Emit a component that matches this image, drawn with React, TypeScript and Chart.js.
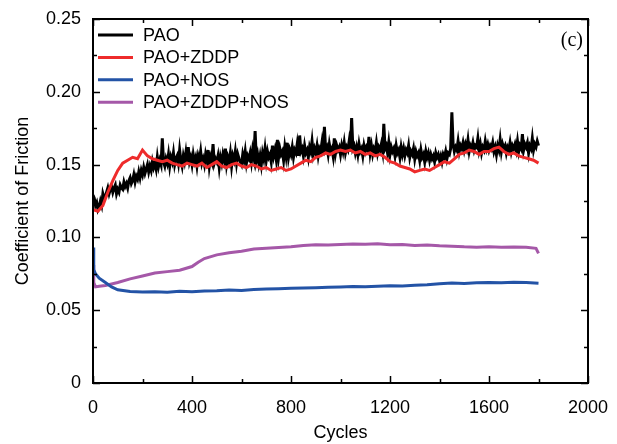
import React, { useEffect, useRef } from "react";
import { Chart, registerables } from "chart.js";

Chart.register(...registerables);

const seriesNames = ["PAO", "PAO+ZDDP", "PAO+NOS", "PAO+ZDDP+NOS"];
const seriesColors = ["#000000", "#EE2B2B", "#2353A6", "#A558A8"];

const xTickValues = [0, 400, 800, 1200, 1600, 2000];
const yTickValues = [0, 0.05, 0.1, 0.15, 0.2, 0.25];

// PAO: every 5 cycles, 0..1800
const paoCycles = Array.from({ length: 361 }, (_, i) => i * 5);
const paoCof = [
  0.129, 0.127, 0.122, 0.124, 0.119, 0.121, 0.125, 0.122, 0.130, 0.127, 0.128, 0.131, 0.134, 0.130, 0.133, 0.135, 0.131, 0.134, 0.136, 0.130,
  0.133, 0.131, 0.136, 0.134, 0.133, 0.138, 0.135, 0.137, 0.134, 0.139, 0.141, 0.137, 0.139, 0.143, 0.138, 0.142, 0.140, 0.145, 0.141, 0.146,
  0.143, 0.148, 0.144, 0.147, 0.150, 0.145, 0.149, 0.146, 0.152, 0.148, 0.151, 0.147, 0.155, 0.149, 0.153, 0.150, 0.168, 0.152, 0.149, 0.154,
  0.151, 0.157, 0.149, 0.155, 0.152, 0.158, 0.150, 0.154, 0.156, 0.151, 0.160, 0.153, 0.149, 0.156, 0.152, 0.158, 0.150, 0.162, 0.152, 0.155,
  0.150, 0.157, 0.152, 0.155, 0.149, 0.156, 0.153, 0.159, 0.151, 0.154, 0.150, 0.157, 0.153, 0.160, 0.149, 0.155, 0.152, 0.164, 0.151, 0.154,
  0.152, 0.156, 0.148, 0.155, 0.151, 0.157, 0.153, 0.161, 0.150, 0.155, 0.152, 0.158, 0.149, 0.156, 0.153, 0.159, 0.151, 0.157, 0.154, 0.152,
  0.150, 0.157, 0.153, 0.159, 0.151, 0.156, 0.154, 0.158, 0.152, 0.160, 0.155, 0.173, 0.153, 0.157, 0.151, 0.156, 0.150, 0.158, 0.154, 0.161,
  0.153, 0.159, 0.155, 0.157, 0.152, 0.163, 0.156, 0.160, 0.154, 0.167, 0.155, 0.161, 0.157, 0.159, 0.153, 0.162, 0.156, 0.165, 0.155, 0.160,
  0.157, 0.162, 0.155, 0.160, 0.158, 0.164, 0.156, 0.170, 0.159, 0.161, 0.156, 0.163, 0.158, 0.160, 0.155, 0.162, 0.159, 0.166, 0.157, 0.161,
  0.158, 0.163, 0.156, 0.161, 0.159, 0.165, 0.157, 0.176, 0.160, 0.162, 0.157, 0.164, 0.159, 0.161, 0.156, 0.168, 0.158, 0.163, 0.160, 0.162,
  0.157, 0.163, 0.159, 0.165, 0.158, 0.162, 0.160, 0.166, 0.159, 0.182, 0.161, 0.163, 0.158, 0.162, 0.157, 0.164, 0.159, 0.161, 0.156, 0.163,
  0.159, 0.162, 0.160, 0.169, 0.158, 0.163, 0.157, 0.161, 0.159, 0.165, 0.158, 0.162, 0.160, 0.164, 0.159, 0.178, 0.161, 0.163, 0.158, 0.165,
  0.157, 0.162, 0.159, 0.161, 0.156, 0.163, 0.158, 0.160, 0.155, 0.162, 0.157, 0.161, 0.156, 0.160, 0.158, 0.163, 0.155, 0.159, 0.157, 0.161,
  0.154, 0.159, 0.156, 0.158, 0.153, 0.160, 0.155, 0.157, 0.152, 0.159, 0.155, 0.158, 0.153, 0.157, 0.154, 0.156, 0.152, 0.158, 0.155, 0.157,
  0.153, 0.156, 0.152, 0.157, 0.155, 0.159, 0.154, 0.158, 0.157, 0.161, 0.186, 0.164, 0.159, 0.162, 0.160, 0.166, 0.159, 0.163, 0.161, 0.165,
  0.160, 0.164, 0.161, 0.167, 0.159, 0.163, 0.161, 0.165, 0.160, 0.163, 0.162, 0.168, 0.160, 0.164, 0.158, 0.162, 0.160, 0.166, 0.161, 0.164,
  0.160, 0.163, 0.161, 0.165, 0.159, 0.162, 0.157, 0.163, 0.160, 0.167, 0.159, 0.164, 0.161, 0.163, 0.158, 0.162, 0.160, 0.165, 0.159, 0.163,
  0.161, 0.164, 0.160, 0.166, 0.159, 0.163, 0.161, 0.171, 0.160, 0.164, 0.162, 0.165, 0.158, 0.163, 0.161, 0.168, 0.160, 0.164, 0.162, 0.166,
  0.163,
];

// PAO+ZDDP: every 20 cycles, 0..1800
const zddpCycles = Array.from({ length: 91 }, (_, i) => i * 20);
const zddpCof = [
  0.119, 0.118, 0.122, 0.131, 0.139, 0.146, 0.151, 0.153, 0.155, 0.154,
  0.160, 0.156, 0.154, 0.153, 0.152, 0.153, 0.151, 0.150, 0.149, 0.151,
  0.150, 0.149, 0.151, 0.148, 0.150, 0.152, 0.149, 0.148, 0.150, 0.151,
  0.149, 0.148, 0.150, 0.149, 0.147, 0.148, 0.146, 0.147, 0.148, 0.146,
  0.147, 0.149, 0.151, 0.153, 0.152, 0.155, 0.156, 0.158, 0.157, 0.159,
  0.160, 0.159, 0.160, 0.158, 0.159, 0.157, 0.158, 0.156, 0.157, 0.155,
  0.152, 0.151, 0.149, 0.148, 0.147, 0.145, 0.146, 0.147, 0.146, 0.148,
  0.150, 0.152, 0.151, 0.154, 0.157, 0.158, 0.160, 0.159, 0.157, 0.159,
  0.159, 0.161, 0.162, 0.159, 0.157, 0.158, 0.156, 0.155, 0.154, 0.153,
  0.151,
];

const nosCycles = [
  0, 3, 10, 25, 50, 75, 100, 150, 200, 250, 300, 350, 400, 450, 500, 550,
  600, 650, 700, 750, 800, 850, 900, 950, 1000, 1050, 1100, 1150, 1200,
  1250, 1300, 1350, 1400, 1450, 1500, 1550, 1600, 1650, 1700, 1750, 1800,
];
const nosCof = [
  0.093, 0.078, 0.075, 0.072, 0.069, 0.066, 0.064, 0.0628, 0.0625, 0.0627,
  0.0624, 0.063, 0.0626, 0.0632, 0.0634, 0.0638, 0.0636, 0.0642, 0.0645,
  0.0648, 0.065, 0.0652, 0.0655, 0.0658, 0.066, 0.0662, 0.0661, 0.0665,
  0.0668, 0.0667, 0.0671, 0.0675, 0.0682, 0.0686, 0.0684, 0.0688, 0.069,
  0.0689, 0.0692, 0.069, 0.0685,
];

const zddpNosCycles = [
  0, 3, 10, 25, 50, 75, 100, 150, 200, 250, 300, 350, 400, 425, 450, 500,
  550, 600, 650, 700, 750, 800, 850, 900, 950, 1000, 1050, 1100, 1150,
  1200, 1250, 1300, 1350, 1400, 1450, 1500, 1550, 1600, 1650, 1700, 1750,
  1790, 1800,
];
const zddpNosCof = [
  0.081, 0.069, 0.066, 0.0665, 0.067, 0.068, 0.069, 0.0715, 0.0735, 0.0755,
  0.0765, 0.0775, 0.080, 0.083, 0.0855, 0.088, 0.0895, 0.0905, 0.092,
  0.0925, 0.093, 0.0935, 0.0945, 0.095, 0.0948, 0.0952, 0.0955, 0.0953,
  0.0956, 0.095, 0.0952, 0.0945, 0.0948, 0.0942, 0.094, 0.0935, 0.0932,
  0.0935, 0.0933, 0.0934, 0.0932, 0.0925, 0.089,
];

const FONT = "'Liberation Sans', Arial, sans-serif";

const toPoints = (xs: number[], ys: number[]) => xs.map((x, i) => ({ x, y: ys[i] }));

const framePlugin = {
  id: "frameTicksLegend",
  afterDatasetsDraw(chart: any) {
    const { ctx, chartArea, scales } = chart;
    const { left, right, top, bottom } = chartArea;
    const xs = scales.x;
    const ys = scales.y;
    ctx.save();
    ctx.strokeStyle = "#000";
    ctx.lineWidth = 2;
    ctx.strokeRect(left, top, right - left, bottom - top);
    ctx.lineWidth = 1.5;
    const major = 7;
    const minor = 4;
    for (let v = 0; v <= 2000; v += 200) {
      const px = Math.round(xs.getPixelForValue(v)) + 0.5;
      const len = v % 400 === 0 ? major : minor;
      ctx.beginPath();
      ctx.moveTo(px, bottom);
      ctx.lineTo(px, bottom - len);
      ctx.moveTo(px, top);
      ctx.lineTo(px, top + len);
      ctx.stroke();
    }
    for (let k = 0; k <= 10; k++) {
      const v = k * 0.025;
      const py = Math.round(ys.getPixelForValue(v)) + 0.5;
      const len = k % 2 === 0 ? major : minor;
      ctx.beginPath();
      ctx.moveTo(left, py);
      ctx.lineTo(left + len, py);
      ctx.moveTo(right, py);
      ctx.lineTo(right - len, py);
      ctx.stroke();
    }
    // legend
    ctx.font = `18px ${FONT}`;
    ctx.textBaseline = "middle";
    ctx.textAlign = "left";
    chart.data.datasets.forEach((ds: any, i: number) => {
      const y = top + 16 + i * 22.4;
      ctx.strokeStyle = ds.borderColor;
      ctx.lineWidth = 3;
      ctx.beginPath();
      ctx.moveTo(left + 5, y);
      ctx.lineTo(left + 40, y);
      ctx.stroke();
      ctx.fillStyle = "#000";
      ctx.fillText(ds.label, left + 50, y + 1);
    });
    // panel label
    ctx.font = "20px 'Liberation Serif', 'Times New Roman', serif";
    ctx.textAlign = "right";
    ctx.fillText("(c)", right - 5, top + 22);
    ctx.restore();
  },
};

export default function App() {
  const ref = useRef<HTMLCanvasElement | null>(null);
  useEffect(() => {
    if (!ref.current) return;
    const seriesData = [
      toPoints(paoCycles, paoCof),
      toPoints(zddpCycles, zddpCof),
      toPoints(nosCycles, nosCof),
      toPoints(zddpNosCycles, zddpNosCof),
    ];
    const orders = [2, 1, 3, 4];
    const widths = [3, 3, 3, 3];
    const chart = new Chart(ref.current, {
      type: "line",
      data: {
        datasets: seriesNames.map((name, i) => ({
          label: name,
          data: seriesData[i],
          borderColor: seriesColors[i],
          backgroundColor: seriesColors[i],
          borderWidth: widths[i],
          pointRadius: 0,
          tension: 0,
          fill: false,
          order: orders[i],
        })),
      },
      options: {
        responsive: false,
        animation: false,
        devicePixelRatio: 1,
        layout: { padding: { top: 19, right: 29, bottom: 0, left: 0 } },
        plugins: {
          legend: { display: false },
          tooltip: { enabled: false },
        },
        scales: {
          x: {
            type: "linear",
            min: 0,
            max: 2000,
            afterFit: (s: any) => {
              s.height = 61;
            },
            afterBuildTicks: (s: any) => {
              s.ticks = xTickValues.map((v) => ({ value: v }));
            },
            grid: { display: false },
            border: { display: false },
            ticks: {
              color: "#000",
              font: { family: FONT, size: 18 },
              padding: 6,
              maxRotation: 0,
              callback: (v: any) => String(v),
            },
            title: {
              display: true,
              text: "Cycles",
              color: "#000",
              font: { family: FONT, size: 18 },
              padding: { top: 0, bottom: 0 },
            },
          },
          y: {
            type: "linear",
            min: 0,
            max: 0.25,
            afterFit: (s: any) => {
              s.width = 93;
            },
            afterBuildTicks: (s: any) => {
              s.ticks = yTickValues.map((v) => ({ value: v }));
            },
            grid: { display: false },
            border: { display: false },
            ticks: {
              color: "#000",
              font: { family: FONT, size: 18 },
              padding: 4,
              callback: (v: any) => (v === 0 ? "0" : Number(v).toFixed(2)),
            },
            title: {
              display: true,
              text: "Coefficient of Friction",
              color: "#000",
              font: { family: FONT, size: 18 },
              padding: { top: 12, bottom: 0 },
            },
          },
        },
      },
      plugins: [framePlugin],
    });
    return () => chart.destroy();
  }, []);
  return (
    <div style={{ position: "fixed", left: 0, top: 0, width: 617, height: 444, background: "#fff" }}>
      <canvas ref={ref} width={617} height={444} />
    </div>
  );
}
